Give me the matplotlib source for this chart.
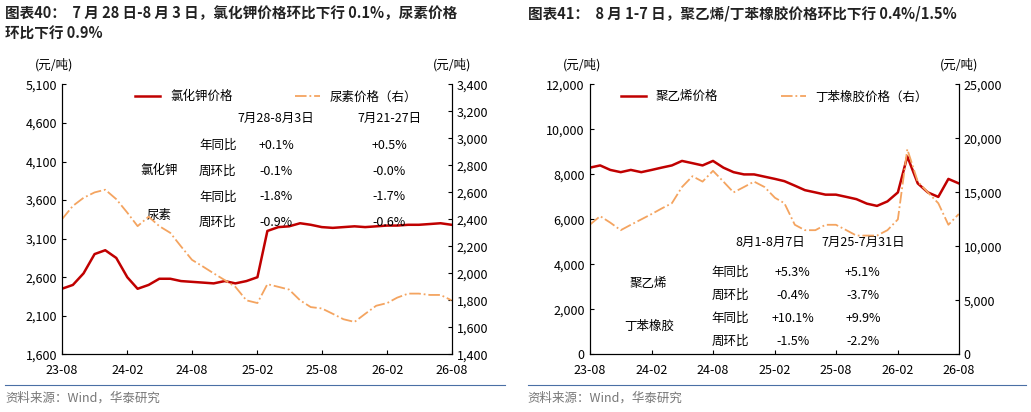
import matplotlib
matplotlib.use("Agg")
import matplotlib.pyplot as plt
import matplotlib.dates as mdates
import pandas as pd

plt.rcParams['font.family'] = ['Noto Sans CJK SC', 'DejaVu Sans']
plt.rcParams['font.size'] = 9

dates = pd.date_range("2023-08-01", "2026-08-01", freq="MS")
potash = [2450,2500,2650,2900,2950,2850,2600,2450,2500,2580,2580,2550,2540,2530,2520,2550,2520,2550,
          2600,3200,3250,3260,3300,3280,3250,3240,3250,3260,3250,3260,3270,3270,3280,3280,3290,3300,3280]
urea = [2400,2500,2560,2600,2620,2550,2450,2350,2420,2350,2300,2200,2100,2050,2000,1950,1900,1800,
        1780,1920,1900,1880,1800,1750,1740,1700,1660,1640,1700,1760,1780,1820,1850,1850,1840,1840,1800]
pe = [8300,8400,8200,8100,8200,8100,8200,8300,8400,8600,8500,8400,8600,8300,8100,8000,8000,7900,
      7800,7700,7500,7300,7200,7100,7100,7000,6900,6700,6600,6800,7200,8800,7600,7200,7000,7800,7600]
sbr = [12000,12800,12200,11500,12000,12500,13000,13500,14000,15500,16500,16000,17000,16000,15000,15500,16000,15500,
       14500,14000,12000,11500,11500,12000,12000,11500,11000,11000,11000,11500,12500,19000,16000,15000,14000,12000,13000]

RED = '#c00000'; ORG = '#f4a460'
fig = plt.figure(figsize=(10.31, 4.12), dpi=100)

def setup(ax, ax2):
    ax.xaxis.set_major_locator(mdates.MonthLocator(bymonth=[2, 8]))
    ax.xaxis.set_major_formatter(mdates.DateFormatter('%y-%m'))
    ax.set_xlim(dates[0], dates[-1])
    for a in (ax, ax2):
        a.spines['top'].set_visible(False)
        a.tick_params(direction='in', length=3)
    ax.tick_params(axis='x', pad=7)

# left panel
ax = fig.add_axes([0.06, 0.14, 0.378, 0.655])
ax2 = ax.twinx()
l1, = ax.plot(dates, potash, color=RED, lw=1.8, label='氯化钾价格')
l2, = ax2.plot(dates, urea, color=ORG, lw=1.3, ls='-.', label='尿素价格（右）')
ax.set_ylim(1600, 5100); ax.set_yticks(range(1600, 5101, 500))
ax.yaxis.set_major_formatter(matplotlib.ticker.StrMethodFormatter('{x:,.0f}'))
ax2.set_ylim(1400, 3400); ax2.set_yticks(range(1400, 3401, 200))
ax2.yaxis.set_major_formatter(matplotlib.ticker.StrMethodFormatter('{x:,.0f}'))
setup(ax, ax2)
ax.legend(handles=[l1, l2], loc='upper center', bbox_to_anchor=(0.55, 1.02), ncol=2, frameon=False, columnspacing=5)
ax.text(-0.02, 1.06, '(元/吨)', transform=ax.transAxes, ha='center')
ax.text(1.0, 1.06, '(元/吨)', transform=ax.transAxes, ha='center')
T = ax.transAxes
ax.text(0.55, 0.86, '7月28-8月3日', transform=T, ha='center')
ax.text(0.84, 0.86, '7月21-27日', transform=T, ha='center')
rows = [('年同比', '+0.1%', '+0.5%'), ('周环比', '-0.1%', '-0.0%'), ('年同比', '-1.8%', '-1.7%'), ('周环比', '-0.9%', '-0.6%')]
for i, (a, b, c) in enumerate(rows):
    y = 0.76 - i * 0.095
    ax.text(0.40, y, a, transform=T, ha='center')
    ax.text(0.55, y, b, transform=T, ha='center')
    ax.text(0.84, y, c, transform=T, ha='center')
ax.text(0.25, 0.67, '氯化钾', transform=T, ha='center')
ax.text(0.25, 0.50, '尿素', transform=T, ha='center')

# right panel
bx = fig.add_axes([0.572, 0.14, 0.358, 0.655])
bx2 = bx.twinx()
m1, = bx.plot(dates, pe, color=RED, lw=1.8, label='聚乙烯价格')
m2, = bx2.plot(dates, sbr, color=ORG, lw=1.3, ls='-.', label='丁苯橡胶价格（右）')
bx.set_ylim(0, 12000); bx.set_yticks(range(0, 12001, 2000))
bx.yaxis.set_major_formatter(matplotlib.ticker.StrMethodFormatter('{x:,.0f}'))
bx2.set_ylim(0, 25000); bx2.set_yticks(range(0, 25001, 5000))
bx2.yaxis.set_major_formatter(matplotlib.ticker.StrMethodFormatter('{x:,.0f}'))
setup(bx, bx2)
bx.legend(handles=[m1, m2], loc='upper center', bbox_to_anchor=(0.5, 1.02), ncol=2, frameon=False, columnspacing=5)
bx.text(-0.02, 1.06, '(元/吨)', transform=bx.transAxes, ha='center')
bx.text(1.0, 1.06, '(元/吨)', transform=bx.transAxes, ha='center')
T = bx.transAxes
bx.text(0.49, 0.40, '8月1-8月7日', transform=T, ha='center')
bx.text(0.74, 0.40, '7月25-7月31日', transform=T, ha='center')
rows = [('年同比', '+5.3%', '+5.1%'), ('周环比', '-0.4%', '-3.7%'), ('年同比', '+10.1%', '+9.9%'), ('周环比', '-1.5%', '-2.2%')]
for i, (a, b, c) in enumerate(rows):
    y = 0.29 - i * 0.085
    bx.text(0.38, y, a, transform=T, ha='center')
    bx.text(0.55, y, b, transform=T, ha='center')
    bx.text(0.74, y, c, transform=T, ha='center')
bx.text(0.16, 0.25, '聚乙烯', transform=T, ha='center')
bx.text(0.16, 0.09, '丁苯橡胶', transform=T, ha='center')

fig.text(0.005, 0.955, '图表40：  7 月 28 日-8 月 3 日，氯化钾价格环比下行 0.1%，尿素价格', fontsize=10.5, fontweight='bold', color='#222')
fig.text(0.005, 0.905, '环比下行 0.9%', fontsize=10.5, fontweight='bold', color='#222')
fig.text(0.512, 0.955, '图表41：  8 月 1-7 日，聚乙烯/丁苯橡胶价格环比下行 0.4%/1.5%', fontsize=10.5, fontweight='bold', color='#222')
fig.text(0.005, 0.025, '资料来源：Wind，华泰研究', fontsize=9, color='#777')
fig.text(0.512, 0.025, '资料来源：Wind，华泰研究', fontsize=9, color='#777')
fig.add_artist(plt.Line2D([0.005, 0.49], [0.065, 0.065], color='#4a6fa5', lw=0.8))
fig.add_artist(plt.Line2D([0.512, 0.995], [0.065, 0.065], color='#4a6fa5', lw=0.8))
fig.savefig('out.png', dpi=100)
